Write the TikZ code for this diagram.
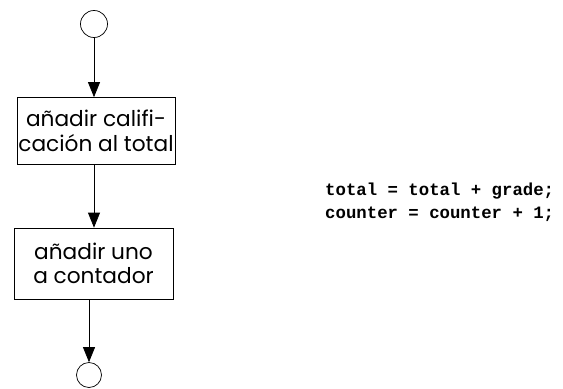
\documentclass[tikz,border=0pt]{standalone}
\usepackage{fontspec}
\setmainfont{Poppins}
\newfontfamily\codefont{Liberation Mono}
\usetikzlibrary{arrows.meta}

\tikzset{
	flow/.style={line width=0.6pt, -{Triangle[length=0.45cm, width=0.36cm]}},
	endpoint/.style={draw, circle, line width=0.6pt, inner sep=0pt},
	activity/.style={draw, rectangle, line width=0.6pt, align=center, inner sep=0pt,
		font=\fontsize{18.5}{21}\selectfont},
	code/.style={align=left, inner sep=0pt, font=\codefont\bfseries\fontsize{14.8}{19.6}\selectfont}
}

\begin{document}
\begin{tikzpicture}[x=0.03cm, y=-0.03cm]
		%%%%% START %%%%%
		\useasboundingbox (0, 0) rectangle (563, 388);
		
		\node[endpoint, minimum size=0.81cm] (start) at (94, 24) {};
		\node[activity, minimum width=4.74cm, minimum height=2.01cm] (addgrade) at (96, 131) {añadir califi-\\cación al total};
		\node[activity, minimum width=4.77cm, minimum height=2.13cm] (addone) at (93.5, 263.5) {añadir uno\\a contador};
		\node[endpoint, minimum size=0.75cm] (stop) at (89, 375) {};
		
		\draw[flow] (start.south) -- (start.south |- addgrade.north);
		\draw[flow] (addgrade.south -| start) -- (start |- addone.north);
		\draw[flow] (addone.south -| stop) -- (stop.north);
		
		\node[code, anchor=west] (stmts) at (325, 202) {total = total + grade;\\counter = counter + 1;};
		
		%%%%% END %%%%%
\end{tikzpicture}
\end{document}
